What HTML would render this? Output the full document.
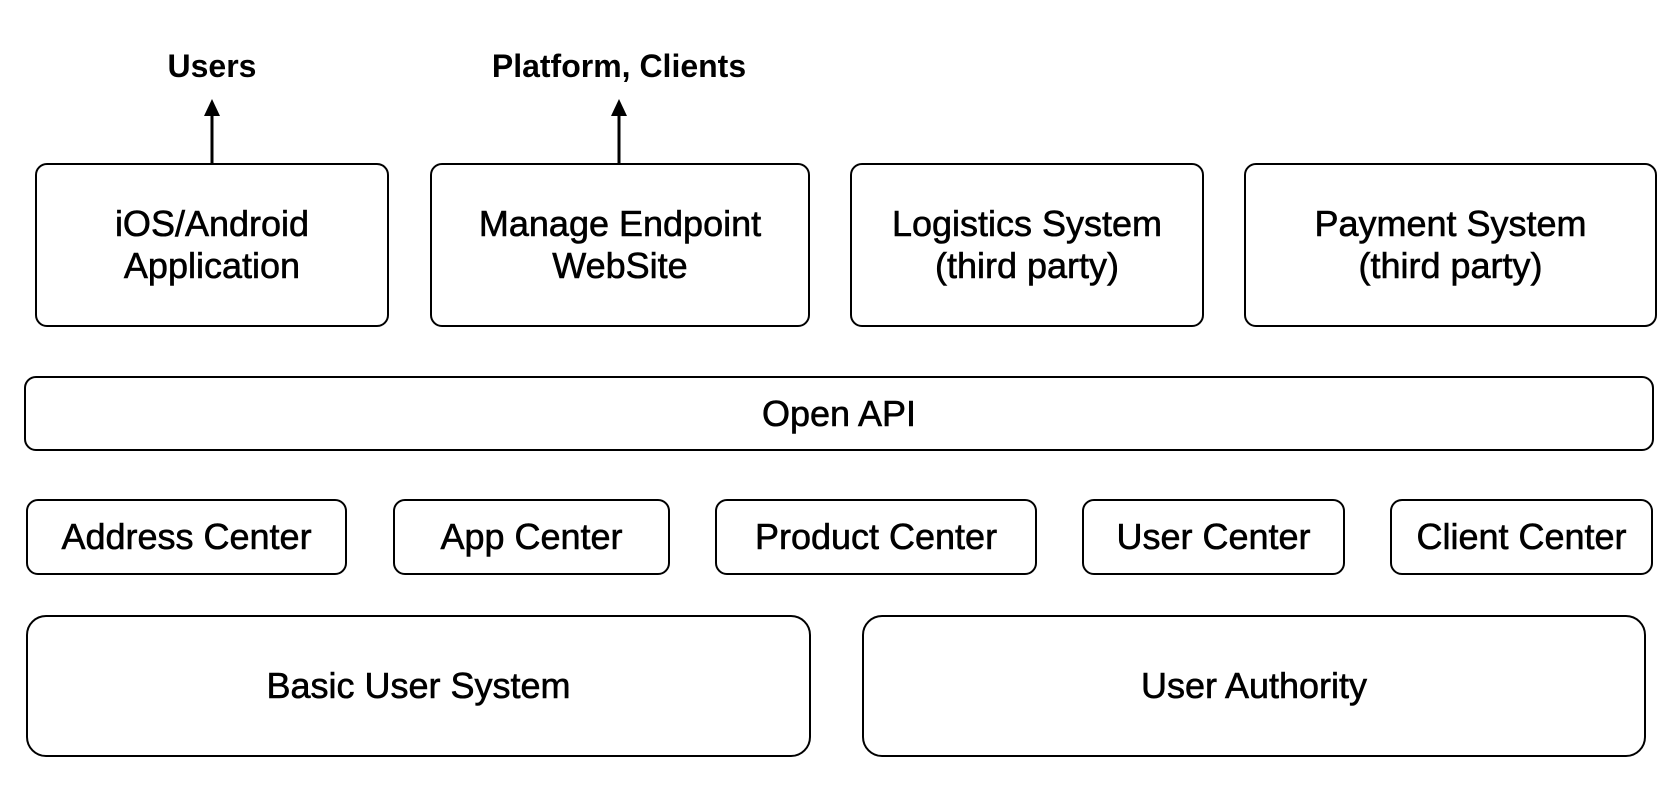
<!DOCTYPE html>
<html><head><meta charset="utf-8"><style>
html,body{margin:0;padding:0;background:#fff;}
body{width:1676px;height:790px;position:relative;overflow:hidden;font-family:"Liberation Sans",Helvetica,Arial,sans-serif;}
.b{position:absolute;box-sizing:border-box;border:2px solid #000;border-radius:12px;display:flex;align-items:center;justify-content:center;text-align:center;font-size:36px;line-height:42px;color:#000;-webkit-text-stroke:0.6px #000;}
.t{position:absolute;font-size:32px;font-weight:bold;transform:translateX(-50%);white-space:nowrap;}
</style></head><body>
<div class="t" style="left:212px;top:48px">Users</div>
<div class="t" style="left:619px;top:48px">Platform, Clients</div>
<svg width="1676" height="790" style="position:absolute;left:0;top:0">
<line x1="212" y1="164" x2="212" y2="112" stroke="#000" stroke-width="3"/>
<polygon points="212,99 204,116 220,116" fill="#000"/>
<line x1="619" y1="164" x2="619" y2="112" stroke="#000" stroke-width="3"/>
<polygon points="619,99 611,116 627,116" fill="#000"/>
</svg>
<div class="b" style="left:35px;top:163px;width:354px;height:164px">iOS/Android<br>Application</div>
<div class="b" style="left:430px;top:163px;width:380px;height:164px">Manage Endpoint<br>WebSite</div>
<div class="b" style="left:850px;top:163px;width:354px;height:164px">Logistics System<br>(third party)</div>
<div class="b" style="left:1244px;top:163px;width:413px;height:164px">Payment System<br>(third party)</div>
<div class="b" style="left:24px;top:376px;width:1630px;height:75px">Open API</div>
<div class="b" style="left:26px;top:499px;width:321px;height:76px">Address Center</div>
<div class="b" style="left:393px;top:499px;width:277px;height:76px">App Center</div>
<div class="b" style="left:715px;top:499px;width:322px;height:76px">Product Center</div>
<div class="b" style="left:1082px;top:499px;width:263px;height:76px">User Center</div>
<div class="b" style="left:1390px;top:499px;width:263px;height:76px">Client Center</div>
<div class="b" style="left:26px;top:615px;width:785px;height:142px;border-radius:20px">Basic User System</div>
<div class="b" style="left:862px;top:615px;width:784px;height:142px;border-radius:20px">User Authority</div>
</body></html>
